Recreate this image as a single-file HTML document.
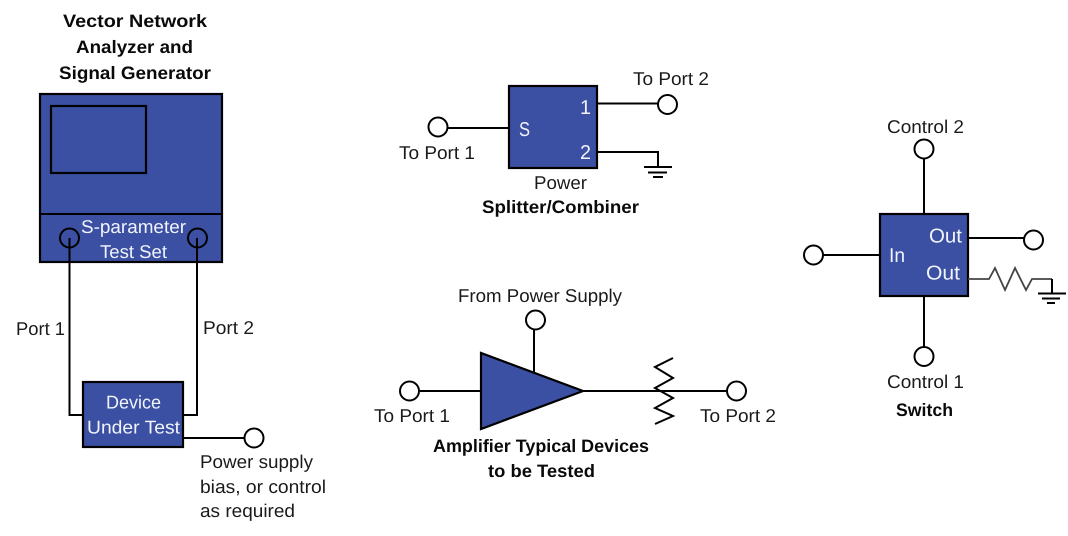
<!DOCTYPE html>
<html><head><meta charset="utf-8"><style>
html,body{margin:0;padding:0;background:#fff;width:1068px;height:536px;overflow:hidden}
svg{display:block}
text{font-family:"Liberation Sans",sans-serif;font-size:18.5px;fill:#1a1a1a}
.b{font-weight:bold;fill:#0a0a0a;font-size:18px}
.w{fill:#f2f4fb}
.m{font-size:20px}
.box{fill:#3b50a3;stroke:#000;stroke-width:2.2}
.l{fill:none;stroke:#000;stroke-width:2}
.c{fill:#fff;stroke:#000;stroke-width:2}
</style></head><body>
<svg width="1068" height="536" viewBox="0 0 1068 536" xmlns="http://www.w3.org/2000/svg" text-rendering="geometricPrecision">
<!-- VNA -->
<rect class="box" x="40" y="94" width="182" height="168"/>
<rect class="box" x="51" y="106" width="95" height="67"/>
<path class="l" d="M40 214H222"/>
<circle cx="69.5" cy="238" r="9.5" fill="none" stroke="#000" stroke-width="2"/>
<circle cx="197.5" cy="238" r="9.5" fill="none" stroke="#000" stroke-width="2"/>
<path class="l" d="M69.5 238V415H83M197 238V415H183"/>
<rect class="box" x="83" y="382" width="100" height="65"/>
<path class="l" d="M183 438H245"/>
<circle class="c" cx="254" cy="438" r="9.5"/>
<text class="b" x="63" y="27" textLength="144" lengthAdjust="spacingAndGlyphs">Vector Network</text>
<text class="b" x="76" y="53" textLength="117" lengthAdjust="spacingAndGlyphs">Analyzer and</text>
<text class="b" x="59" y="79" textLength="152" lengthAdjust="spacingAndGlyphs">Signal Generator</text>
<text class="w" x="81" y="233" textLength="105" lengthAdjust="spacingAndGlyphs">S-parameter</text>
<text class="w" x="100" y="258" textLength="67" lengthAdjust="spacingAndGlyphs">Test Set</text>
<text x="16" y="335" textLength="49" lengthAdjust="spacingAndGlyphs">Port 1</text>
<text x="203" y="334" textLength="51" lengthAdjust="spacingAndGlyphs">Port 2</text>
<text class="w" x="106" y="408.500" textLength="55" lengthAdjust="spacingAndGlyphs">Device</text>
<text class="w" x="87" y="433.500" textLength="93" lengthAdjust="spacingAndGlyphs">Under Test</text>
<text x="200" y="468" textLength="113" lengthAdjust="spacingAndGlyphs">Power supply</text>
<text x="200" y="493" textLength="126" lengthAdjust="spacingAndGlyphs">bias, or control</text>
<text x="200" y="517" textLength="95" lengthAdjust="spacingAndGlyphs">as required</text>
<!-- Splitter -->
<rect class="box" x="509" y="86" width="88" height="82"/>
<path class="l" d="M447 128H509M597 103.5H658M597 152H658V167M644 167H672M648 172.500H667M653 177H663"/>
<circle class="c" cx="438" cy="127" r="9.500"/>
<circle class="c" cx="667.500" cy="104.500" r="9.500"/>
<text x="399" y="159" textLength="76" lengthAdjust="spacingAndGlyphs">To Port 1</text>
<text x="633" y="85" textLength="76" lengthAdjust="spacingAndGlyphs">To Port 2</text>
<text class="w m" x="519" y="136" textLength="11" lengthAdjust="spacingAndGlyphs">S</text>
<text class="w m" x="580" y="114" textLength="11" lengthAdjust="spacingAndGlyphs">1</text>
<text class="w m" x="580" y="159" textLength="11" lengthAdjust="spacingAndGlyphs">2</text>
<text x="534" y="189" textLength="53" lengthAdjust="spacingAndGlyphs">Power</text>
<text class="b" x="482" y="213" textLength="157" lengthAdjust="spacingAndGlyphs">Splitter/Combiner</text>
<!-- Amplifier -->
<path class="l" d="M419 391H481M534 330V373M582 391H727"/>
<path class="l" d="M673 358L655 367L673 378L655 388L673 398L655 408L673 416L655 424"/>
<polygon class="box" points="481,353 481,429 583,391"/>
<circle class="c" cx="409.500" cy="391" r="9.500"/>
<circle class="c" cx="535.500" cy="320" r="9.500"/>
<circle class="c" cx="736.500" cy="391" r="9.500"/>
<text x="458" y="302" textLength="164" lengthAdjust="spacingAndGlyphs">From Power Supply</text>
<text x="374" y="422" textLength="76" lengthAdjust="spacingAndGlyphs">To Port 1</text>
<text x="700" y="422" textLength="76" lengthAdjust="spacingAndGlyphs">To Port 2</text>
<text class="b" x="433" y="452" textLength="216" lengthAdjust="spacingAndGlyphs">Amplifier Typical Devices</text>
<text class="b" x="488" y="477" textLength="107" lengthAdjust="spacingAndGlyphs">to be Tested</text>
<!-- Switch -->
<rect class="box" x="880" y="214" width="88" height="82"/>
<path class="l" d="M924 159V214M924 296V347M823 255H880M968 238H1024"/>
<path d="M968 279H989L995 268L1005 290L1015 268L1026 290L1032 279H1052" fill="none" stroke="#444" stroke-width="1.800"/>
<path class="l" d="M1052 279V293M1038 293.500H1066M1042 298.500H1060M1047 303H1055"/>
<circle class="c" cx="924" cy="149" r="9.500"/>
<circle class="c" cx="924" cy="356.500" r="9.500"/>
<circle class="c" cx="813.500" cy="255" r="9.500"/>
<circle class="c" cx="1033.500" cy="240" r="9.500"/>
<text x="887" y="133" textLength="77" lengthAdjust="spacingAndGlyphs">Control 2</text>
<text x="887" y="388" textLength="77" lengthAdjust="spacingAndGlyphs">Control 1</text>
<text class="b" x="896" y="416" textLength="57" lengthAdjust="spacingAndGlyphs">Switch</text>
<text class="w m" x="889" y="262" textLength="16" lengthAdjust="spacingAndGlyphs">In</text>
<text class="w m" x="929" y="242.500" textLength="33" lengthAdjust="spacingAndGlyphs">Out</text>
<text class="w m" x="926" y="279.500" textLength="34" lengthAdjust="spacingAndGlyphs">Out</text>
</svg>
</body></html>
